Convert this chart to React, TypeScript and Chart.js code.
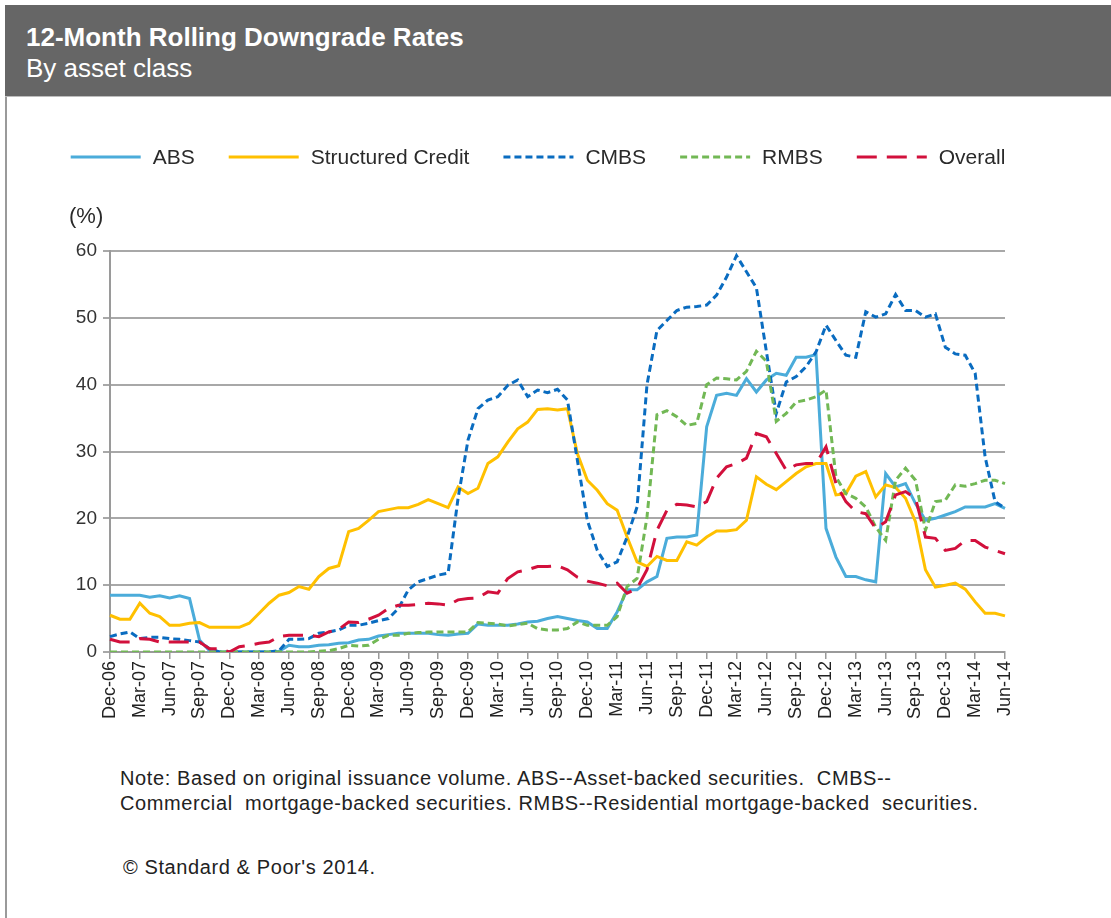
import React, { useEffect, useRef } from "react";
import { Chart, registerables } from "chart.js";

Chart.register(...registerables);

const FONT = '"Liberation Sans", Arial, Helvetica, sans-serif';

const MONTH_NAMES = ["Jan", "Feb", "Mar", "Apr", "May", "Jun", "Jul", "Aug", "Sep", "Oct", "Nov", "Dec"];
// Monthly categories Dec-06 .. Jun-14
const LABELS: string[] = [];
for (let k = 0; k < 91; k++) {
  const m = (11 + k) % 12;
  const y = 6 + Math.floor((11 + k) / 12);
  LABELS.push(`${MONTH_NAMES[m]}-${String(y).padStart(2, "0")}`);
}

const ABS = [
  8.5, 8.5, 8.5, 8.5, 8.2, 8.4, 8.1, 8.4, 8.0, 1.8,
  0.2, 0.0, 0.0, 0.0, 0.0, 0.0, 0.0, 0.1, 1.0, 0.8,
  0.8, 1.0, 1.1, 1.3, 1.4, 1.8, 1.9, 2.4, 2.6, 2.8,
  2.8, 2.8, 2.8, 2.6, 2.5, 2.7, 2.8, 4.2, 4.0, 4.0,
  4.0, 4.2, 4.5, 4.6, 5.0, 5.3, 5.0, 4.7, 4.5, 3.5,
  3.5, 6.0, 9.3, 9.3, 10.5, 11.3, 17.0, 17.2, 17.2, 17.5,
  33.7, 38.4, 38.7, 38.4, 40.9, 38.9, 40.7, 41.7, 41.4, 44.1,
  44.1, 44.5, 18.5, 14.2, 11.3, 11.3, 10.8, 10.5, 26.7, 24.7,
  25.2, 22.2, 19.7, 20.0, 20.5, 21.0, 21.7, 21.7, 21.7, 22.2,
  21.5,
];

const STRUCTURED_CREDIT = [
  5.5, 4.9, 4.9, 7.3, 5.8, 5.3, 4.0, 4.0, 4.3, 4.4,
  3.7, 3.7, 3.7, 3.7, 4.3, 5.8, 7.3, 8.5, 8.9, 9.8,
  9.4, 11.3, 12.5, 12.9, 18.0, 18.5, 19.7, 21.0, 21.3, 21.6,
  21.6, 22.1, 22.8, 22.2, 21.6, 24.7, 23.7, 24.5, 28.2, 29.2,
  31.4, 33.4, 34.4, 36.3, 36.4, 36.2, 36.4, 29.7, 25.7, 24.2,
  22.2, 21.2, 17.2, 13.5, 12.8, 14.3, 13.7, 13.7, 16.5, 16.0,
  17.2, 18.1, 18.1, 18.3, 19.7, 26.2, 25.1, 24.3, 25.5, 26.7,
  27.7, 28.2, 28.2, 23.5, 23.7, 26.3, 27.0, 23.2, 25.0, 24.6,
  23.0, 19.5, 12.3, 9.7, 10.0, 10.3, 9.4, 7.5, 5.8, 5.8,
  5.4,
];

const CMBS = [
  2.3, 2.7, 3.0, 2.0, 2.2, 2.2, 2.0, 1.9, 1.7, 1.5,
  0.5, 0.0, 0.0, 0.0, 0.0, 0.0, 0.0, 0.2, 1.9, 1.9,
  2.0, 2.8, 3.0, 3.3, 4.0, 4.0, 4.3, 4.7, 5.0, 6.5,
  9.3, 10.5, 11.0, 11.5, 11.8, 23.0, 31.7, 36.4, 37.7, 38.2,
  39.9, 40.7, 38.2, 39.2, 38.8, 39.3, 37.7, 28.7, 19.7, 15.2,
  12.8, 13.5, 17.2, 21.7, 40.0, 48.1, 49.6, 51.1, 51.6, 51.7,
  51.9, 53.4, 56.1, 59.3, 56.9, 54.5, 45.0, 35.7, 40.4, 41.2,
  42.7, 44.9, 48.9, 46.6, 44.4, 44.1, 50.9, 50.1, 50.6, 53.5,
  51.1, 51.1, 50.1, 50.6, 45.6, 44.6, 44.4, 41.7, 29.2, 22.5,
  21.5,
];

const RMBS = [
  0.0, 0.0, 0.0, 0.0, 0.0, 0.0, 0.0, 0.0, 0.0, 0.0,
  0.0, 0.0, 0.0, 0.0, 0.0, 0.0, 0.0, 0.0, 0.0, 0.0,
  0.0, 0.1, 0.2, 0.5, 1.0, 0.9, 1.0, 1.9, 2.5, 2.5,
  2.8, 2.9, 3.0, 3.0, 3.0, 3.0, 3.0, 4.4, 4.3, 4.2,
  3.9, 4.1, 4.3, 3.5, 3.3, 3.3, 3.5, 4.5, 4.0, 4.0,
  4.0, 5.3, 9.8, 11.0, 20.2, 35.5, 36.1, 35.2, 33.9, 34.2,
  40.0, 41.0, 40.9, 40.7, 42.0, 45.0, 43.5, 34.5, 35.7, 37.4,
  37.7, 38.2, 39.2, 26.2, 23.7, 23.0, 21.7, 18.7, 16.7, 25.7,
  27.5, 25.7, 18.2, 22.5, 22.7, 25.0, 24.8, 25.2, 25.7, 25.7,
  25.2,
];

const OVERALL = [
  1.9, 1.5, 1.5, 2.0, 1.9, 1.5, 1.5, 1.5, 1.5, 1.5,
  0.5, 0.5, 0.0, 0.8, 1.0, 1.3, 1.5, 2.3, 2.5, 2.5,
  2.5, 2.3, 3.0, 3.4, 4.5, 4.4, 4.9, 5.5, 6.5, 7.0,
  7.0, 7.1, 7.3, 7.2, 7.0, 7.8, 8.0, 8.1, 9.0, 8.8,
  11.0, 12.0, 12.3, 12.8, 12.8, 12.9, 12.3, 11.2, 10.6, 10.3,
  9.9, 10.3, 8.8, 9.5, 12.3, 18.2, 21.2, 22.1, 22.0, 21.7,
  22.5, 26.0, 27.7, 28.2, 29.0, 32.7, 32.2, 29.7, 27.2, 28.0,
  28.2, 28.2, 30.7, 25.2, 22.5, 21.0, 20.7, 18.5, 19.5, 23.5,
  24.0, 23.0, 17.2, 17.0, 15.2, 15.5, 16.7, 16.7, 15.7, 15.2,
  14.7,
];

const SERIES_NAMES = ["ABS", "Structured Credit", "CMBS", "RMBS", "Overall"];
const SERIES_COLORS = ["#4BACDA", "#FFC000", "#0A6CC0", "#72B855", "#D2103C"];
const SERIES_DASH: number[][] = [[], [], [7, 4], [7, 4], [20, 10]];
const SERIES_DATA = [ABS, STRUCTURED_CREDIT, CMBS, RMBS, OVERALL];

const Y_MIN = 0;
const Y_MAX = 60;
const Y_STEP = 10;
const Y_UNIT = "(%)";

const legendPlugin = {
  id: "customLegend",
  afterDraw(chart: any) {
    const ctx = chart.ctx as CanvasRenderingContext2D;
    ctx.save();
    ctx.font = `21px ${FONT}`;
    const lineLen = 70;
    const gapText = 12;
    const gapItem = 34;
    const ds = chart.data.datasets;
    const widths = ds.map((d: any) => ctx.measureText(d.label).width);
    const total =
      widths.reduce((s: number, w: number) => s + lineLen + gapText + w, 0) + gapItem * (ds.length - 1);
    let x = 531 - total / 2;
    const y = 57;
    ds.forEach((d: any, i: number) => {
      ctx.strokeStyle = d.borderColor;
      ctx.lineWidth = 3;
      ctx.setLineDash(d.borderDash || []);
      ctx.beginPath();
      ctx.moveTo(x, y);
      ctx.lineTo(x + lineLen, y);
      ctx.stroke();
      ctx.setLineDash([]);
      ctx.fillStyle = "#2a2a2a";
      ctx.textBaseline = "middle";
      ctx.textAlign = "left";
      ctx.fillText(d.label, x + lineLen + gapText, y + 1);
      x += lineLen + gapText + widths[i] + gapItem;
    });
    // unit label above the y axis
    ctx.font = `22px ${FONT}`;
    ctx.fillStyle = "#2a2a2a";
    ctx.textBaseline = "middle";
    ctx.fillText(Y_UNIT, chart.chartArea.left - 41, chart.chartArea.top - 34);
    ctx.restore();
  },
};

export default function App() {
  const canvasRef = useRef<HTMLCanvasElement | null>(null);

  useEffect(() => {
    if (!canvasRef.current) return;
    const chart = new Chart(canvasRef.current, {
      type: "line",
      data: {
        labels: LABELS,
        datasets: SERIES_NAMES.map((name, i) => ({
          label: name,
          data: SERIES_DATA[i],
          borderColor: SERIES_COLORS[i],
          backgroundColor: SERIES_COLORS[i],
          borderDash: SERIES_DASH[i],
          borderWidth: 3,
          pointRadius: 0,
          tension: 0,
          fill: false,
          order: SERIES_NAMES.length - i,
        })),
      },
      options: {
        animation: false,
        responsive: false,
        maintainAspectRatio: false,
        layout: { padding: { top: 151, right: 100, left: 0, bottom: 0 } },
        plugins: { legend: { display: false }, tooltip: { enabled: false } },
        scales: {
          x: {
            type: "category",
            offset: false,
            grid: {
              display: true,
              drawOnChartArea: false,
              drawTicks: true,
              tickLength: 7,
              lineWidth: 1.5,
              color: (c: any) => (c.index % 3 === 0 ? "#9a9a9a" : "rgba(0,0,0,0)"),
            },
            border: { display: true, color: "#9a9a9a", width: 2 },
            ticks: {
              autoSkip: false,
              maxRotation: 90,
              minRotation: 90,
              padding: 2,
              color: "#222",
              font: { size: 18, family: FONT },
              callback: (_v: any, i: number) => (i % 3 === 0 ? LABELS[i] : ""),
            },
            afterFit: (s: any) => {
              s.height = 108;
            },
          },
          y: {
            min: Y_MIN,
            max: Y_MAX,
            ticks: {
              stepSize: Y_STEP,
              padding: 6,
              color: "#333",
              font: { size: 19, family: FONT },
            },
            grid: { color: "#a8a8a8", lineWidth: 2, tickLength: 7 },
            border: { display: true, color: "#9a9a9a", width: 2 },
            afterFit: (s: any) => {
              s.width = 103;
            },
          },
        },
      },
      plugins: [legendPlugin],
    } as any);
    return () => chart.destroy();
  }, []);

  return (
    <div
      style={{
        position: "absolute",
        left: 0,
        top: 0,
        width: 1111,
        height: 918,
        background: "#fff",
        overflow: "hidden",
        fontFamily: FONT,
      }}
    >
      <div
        style={{
          position: "absolute",
          left: 5,
          top: 5,
          width: 1106,
          height: 91,
          background: "#666666",
          borderBottom: "1px solid #bdbdbd",
        }}
      >
        <div
          style={{
            position: "absolute",
            left: 21,
            top: 17,
            color: "#fff",
            fontWeight: "bold",
            fontSize: 26,
            lineHeight: "30px",
            whiteSpace: "nowrap",
          }}
        >
          12-Month Rolling Downgrade Rates
        </div>
        <div
          style={{
            position: "absolute",
            left: 21,
            top: 48,
            color: "#fff",
            fontSize: 26,
            lineHeight: "30px",
            whiteSpace: "nowrap",
          }}
        >
          By asset class
        </div>
      </div>
      <div style={{ position: "absolute", left: 5, top: 97, width: 2, height: 821, background: "#9a9a9a" }} />
      <canvas
        ref={canvasRef}
        width={1098}
        height={660}
        style={{ position: "absolute", left: 7, top: 100, width: 1098, height: 660 }}
      />
      <div
        style={{
          position: "absolute",
          left: 120,
          top: 766,
          color: "#222",
          fontSize: 20,
          letterSpacing: "0.6px",
          lineHeight: "25px",
          whiteSpace: "nowrap",
        }}
      >
        Note: Based on original issuance volume. ABS--Asset-backed securities.&nbsp; CMBS--
        <br />
        Commercial&nbsp; mortgage-backed securities. RMBS--Residential mortgage-backed&nbsp; securities.
      </div>
      <div
        style={{
          position: "absolute",
          left: 123,
          top: 855,
          color: "#222",
          fontSize: 20,
          letterSpacing: "0.6px",
          lineHeight: "25px",
          whiteSpace: "nowrap",
        }}
      >
        © Standard &amp; Poor's 2014.
      </div>
    </div>
  );
}
